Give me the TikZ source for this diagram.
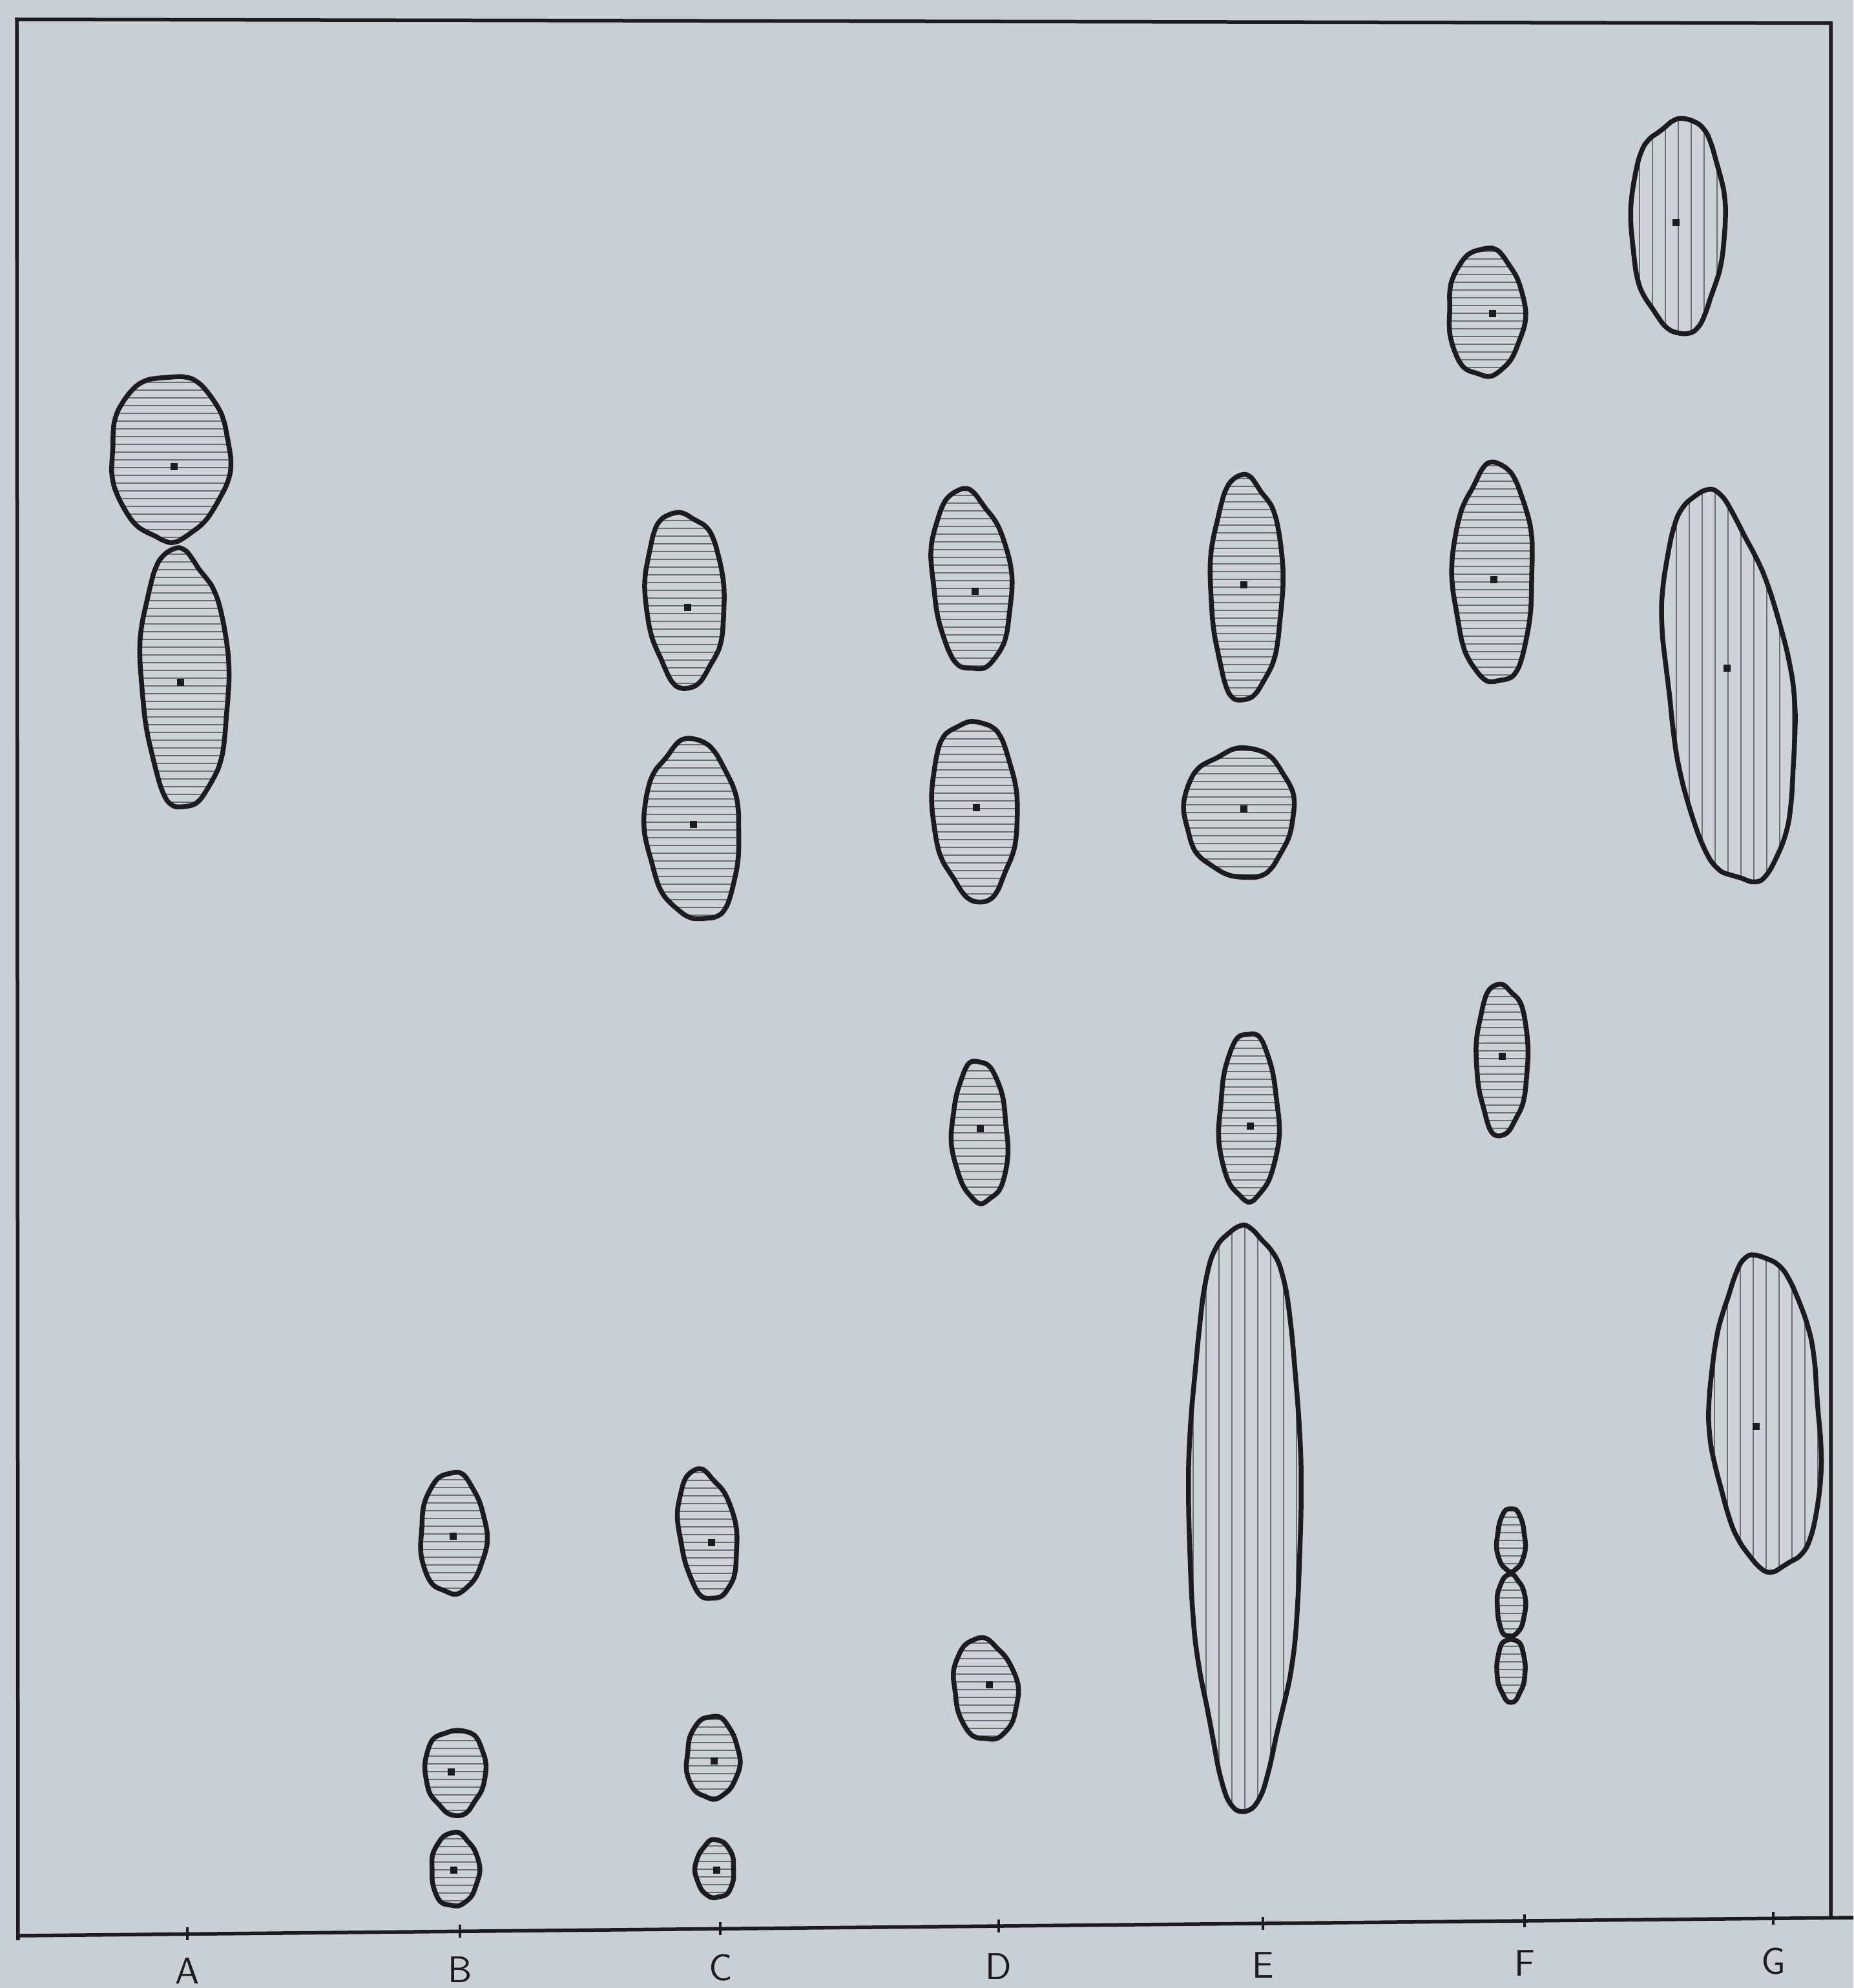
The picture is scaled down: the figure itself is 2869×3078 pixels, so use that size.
\documentclass[tikz,border=0pt]{standalone}
\usepackage{tikz}
\definecolor{paper}{RGB}{201,208,213}
\definecolor{ink}{RGB}{28,28,30}
\definecolor{hatchc}{RGB}{105,110,118}
\tikzset{
  spotline/.style={draw=ink,line width=1.5pt,line join=round},
  hatchline/.style={draw=hatchc,line width=0.5pt},
  frameline/.style={draw=ink,line width=1.1pt},
  tickline/.style={draw=ink,line width=0.9pt},
  lanelabel/.style={font=\sffamily\fontsize{11.5}{13}\selectfont,text=ink,inner sep=0pt},
  dotc/.style={fill=ink}
}
% irregular closed blob: rx, ry, phase, egg
\newcommand\blobpath[4]{%
  plot[smooth cycle,samples=40,domain=0:351,variable=\t]
  ({#1*(1+0.028*sin(3*\t+#3)+0.02*sin(5*\t+2*#3)+0.012*sin(9*\t+#3))*cos(\t)*(1-#4*sin(\t))},
   {#2*(1+0.028*sin(3*\t+#3)+0.02*sin(5*\t+2*#3)+0.012*sin(9*\t+#3))*sin(\t)})}
% spot: cx, cy, rx, ry, rot, phase, egg, dir(h/v), spacing
\newcommand\spot[9]{%
  \begin{scope}
    \clip[shift={(#1,#2)},rotate=#5] \blobpath{#3}{#4}{#6}{#7};
    \fill[paper!94!white,shift={(#1,#2)},rotate=#5] \blobpath{#3}{#4}{#6}{#7};
    \if#8h
      \pgfmathtruncatemacro\nn{#4/#9+4}\pgfmathtruncatemacro\nm{-\nn}
      \foreach \k in {\nm,...,\nn}
        \draw[hatchline] ({#1-#3-120},{#2+\k*#9}) -- ({#1+#3+120},{#2+\k*#9});
    \else
      \pgfmathtruncatemacro\nn{#3/#9+4}\pgfmathtruncatemacro\nm{-\nn}
      \foreach \k in {\nm,...,\nn}
        \draw[hatchline] ({#1+\k*#9},{#2-#4-120}) -- ({#1+\k*#9},{#2+#4+120});
    \fi
  \end{scope}
  \draw[spotline,shift={(#1,#2)},rotate=#5] \blobpath{#3}{#4}{#6}{#7};
}
\newcommand\spotdot[1]{\fill[dotc] (#1) ++(-5.5,-5.5) rectangle ++(11,11);}
\begin{document}
\begin{tikzpicture}[x=0.2pt,y=-0.2pt]
\useasboundingbox (0,0) rectangle (2869,3078);
\fill[paper] (0,0) rectangle (2869,3078);

% frame
\coordinate (TL) at (26,30);
\coordinate (TR) at (2834,36);
\coordinate (BL) at (28,3004);
\coordinate (AxL) at (28,2997);
\coordinate (AxR) at (2869,2969);
\coordinate (RB) at (2834,2970);
\draw[frameline] (BL) -- (TL) -- (TR) -- (RB);
\draw[frameline] (AxL) -- (AxR);

% ticks and labels
\foreach \nm/\x/\ay/\ly in {A/290/2994/3052,B/712/2990/3050,C/1115/2986/3047,D/1546/2982/3045,E/1955/2978/3043,F/2360/2974/3040,G/2745/2970/3037}{
  \coordinate (t\nm) at (\x,\ay);
  \draw[tickline] ([yshift=2pt]t\nm) -- ([yshift=-2pt]t\nm);
  \node[lanelabel] (l\nm) at (\x,\ly) {\nm};
}

% lane A
\spot{263}{712}{92}{128}{0}{20}{0.16}{h}{12}
\spot{285}{1050}{68}{200}{2}{110}{0}{h}{12}
\coordinate (dA1) at (269,722); \spotdot{dA1}
\coordinate (dA2) at (279,1056); \spotdot{dA2}

% lane B
\spot{701}{2375}{51}{94}{0}{40}{0}{h}{12}
\spot{705}{2743}{47}{66}{0}{200}{0.05}{h}{12}
\spot{704}{2895}{37}{57}{0}{70}{0}{h}{12}
\coordinate (dB1) at (701,2378); \spotdot{dB1}
\coordinate (dB2) at (698,2743); \spotdot{dB2}
\coordinate (dB3) at (702,2895); \spotdot{dB3}

% lane C
\spot{1060}{926}{61}{136}{3}{150}{0}{h}{12}
\spot{1073}{1285}{73}{140}{4}{260}{0}{h}{12}
\spot{1095}{2376}{44}{101}{8}{90}{0}{h}{12}
\spot{1103}{2722}{41}{64}{0}{30}{0}{h}{12}
\spot{1107}{2894}{30}{45}{0}{300}{0}{h}{12}
\coordinate (dC1) at (1064,940); \spotdot{dC1}
\coordinate (dC2) at (1073,1276); \spotdot{dC2}
\coordinate (dC3) at (1101,2388); \spotdot{dC3}
\coordinate (dC4) at (1105,2726); \spotdot{dC4}
\coordinate (dC5) at (1109,2895); \spotdot{dC5}

% lane D
\spot{1503}{899}{61}{140}{5}{80}{0}{h}{12}
\spot{1509}{1252}{66}{140}{3}{190}{0}{h}{12}
\spot{1517}{1754}{43}{110}{2}{330}{0}{h}{12}
\spot{1525}{2616}{49}{79}{8}{60}{0}{h}{12}
\coordinate (dD1) at (1509,915); \spotdot{dD1}
\coordinate (dD2) at (1511,1250); \spotdot{dD2}
\coordinate (dD3) at (1517,1747); \spotdot{dD3}
\coordinate (dD4) at (1531,2608); \spotdot{dD4}

% lane E
\spot{1929}{909}{56}{174}{0}{120}{0}{h}{12}
\spot{1919}{1258}{85}{100}{0}{240}{0}{h}{12}
\spot{1933}{1731}{46}{130}{0}{10}{0}{h}{12}
\spot{1927}{2335}{87}{454}{0}{170}{0}{v}{20}
\coordinate (dE1) at (1925,905); \spotdot{dE1}
\coordinate (dE2) at (1925,1252); \spotdot{dE2}
\coordinate (dE3) at (1935,1743); \spotdot{dE3}

% lane F
\spot{2300}{485}{59}{99}{0}{50}{0.05}{h}{12}
\spot{2312}{889}{62}{170}{0}{280}{0}{h}{12}
\spot{2325}{1639}{40}{117}{0}{140}{0}{h}{12}
\spot{2339}{2385}{22}{49}{0}{0}{0}{h}{12}
\spot{2339}{2486}{22}{48}{0}{90}{0}{h}{12}
\spot{2339}{2585}{22}{49}{0}{180}{0}{h}{12}
\coordinate (dF1) at (2310,485); \spotdot{dF1}
\coordinate (dF2) at (2312,897); \spotdot{dF2}
\coordinate (dF3) at (2325,1635); \spotdot{dF3}

% lane G
\spot{2598}{347}{73}{166}{0}{220}{0}{v}{20}
\spot{2675}{1068}{96}{305}{7}{60}{0}{v}{20}
\spot{2734}{2192}{85}{245}{3}{310}{0}{v}{20}
\coordinate (dG1) at (2594,345); \spotdot{dG1}
\coordinate (dG2) at (2673,1034); \spotdot{dG2}
\coordinate (dG3) at (2718,2208); \spotdot{dG3}
\end{tikzpicture}
\end{document}
